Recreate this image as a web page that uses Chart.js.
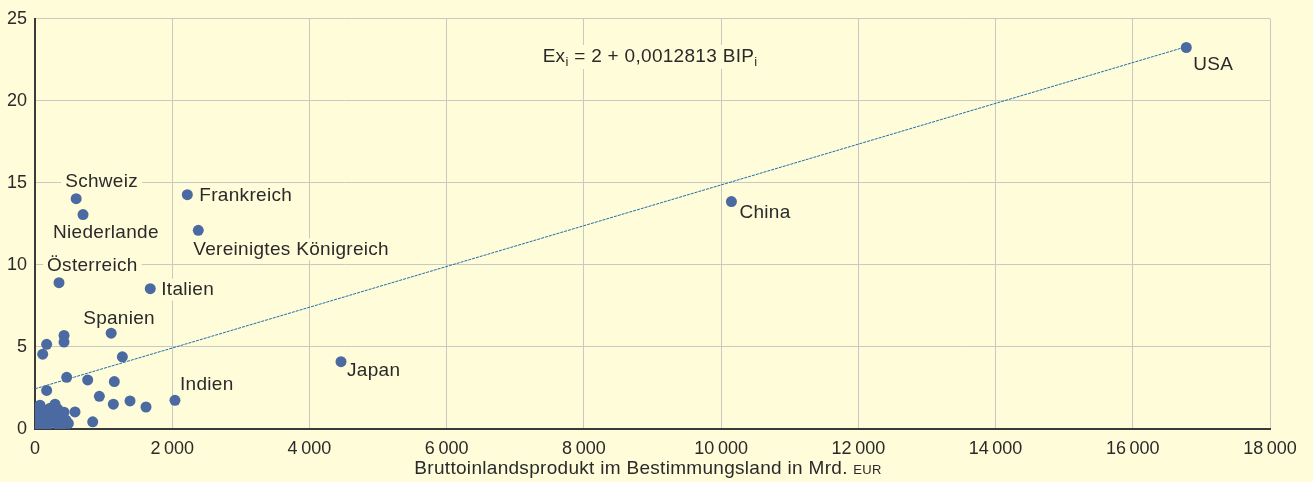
<!DOCTYPE html>
<html>
<head>
<meta charset="utf-8">
<script src="https://cdn.jsdelivr.net/npm/chart.js@4.4.0/dist/chart.umd.min.js"></script>
<style>
    html, body { margin: 0; padding: 0; background: #fffcda; }
    #wrap { width: 1313px; height: 482px; }
</style>
</head>
<body>
<div id="wrap"><canvas id="exportChart" width="1313" height="482"></canvas></div>
<script>
// Daten: BIP (Mrd. EUR) und Exporte je Bestimmungsland
var countryNames = ['USA', 'China', 'Japan', 'Frankreich', 'Vereinigtes Königreich', 'Italien', 'Indien',
    'Spanien', 'Schweiz', 'Niederlande', 'Österreich'];
var countryBip = [16780, 10150, 4460, 2220, 2380, 1680, 2040, 1110, 600, 700, 350];
var countryExports = [23.25, 13.86, 4.10, 14.28, 12.11, 8.55, 1.75, 5.84, 14.04, 13.07, 8.92];

var otherBip = [112, 170, 423, 423, 462, 768, 1156, 1273, 170, 938, 1142, 1385, 1618, 583, 486, 841,
    73, 146, 219, 292, 335, 102, 190, 277, 364, 44, 131, 248, 364, 423, 29, 175, 321, 394, 452, 15];
var otherExports = [4.56, 5.16, 5.70, 5.30, 3.15, 2.99, 2.89, 4.40, 2.35, 1.99, 1.51, 1.71, 1.34, 1.04, 0.34, 0.44,
    1.45, 1.14, 1.27, 1.51, 1.20, 0.84, 0.66, 0.84, 0.90, 0.54, 0.30, 0.42, 0.54, 1.02, 0.24, 0.18, 0.30, 0.24, 0.54, 0.96];

var trendBip = [0, 16780];
var trendExports = [2.45, 23.3];

var xTicks = [0, 2000, 4000, 6000, 8000, 10000, 12000, 14000, 16000, 18000];
var yTicks = [0, 5, 10, 15, 20, 25];

var bgColor = '#fffcda';
var textColor = '#2a2a2a';
var fontFamily = '"Liberation Sans", Arial, sans-serif';
var labelFont = '19px ' + fontFamily;
var subFont = '13px ' + fontFamily;
var spacing = '0.3px';

// Position der Beschriftung relativ zum Punkt (links, Mitte)
var labelOffsets = {
    'USA': [7, 17], 'China': [8, 11], 'Japan': [6, 9], 'Frankreich': [12, 1],
    'Vereinigtes Königreich': [-5, 19], 'Italien': [11, 1], 'Indien': [5, -16],
    'Spanien': [-28, -14], 'Schweiz': [-11, -17], 'Niederlande': [-30, 18], 'Österreich': [-12, -17]
};

var points = [];
for (var i = 0; i < countryNames.length; i++) {
    points.push({ x: countryBip[i], y: countryExports[i], name: countryNames[i] });
}
for (var j = 0; j < otherBip.length; j++) {
    points.push({ x: otherBip[j], y: otherExports[j], name: '' });
}
var trend = [];
for (var k = 0; k < trendBip.length; k++) {
    trend.push({ x: trendBip[k], y: trendExports[k] });
}

function formatThousands(v) {
    return v.toString().replace(/\B(?=(\d{3})+(?!\d))/g, '\u2009');
}

function textWithBg(ctx, text, x, y) {
    var w = ctx.measureText(text).width;
    ctx.fillStyle = bgColor;
    ctx.fillRect(x - 4, y - 11, w + 8, 22);
    ctx.fillStyle = textColor;
    ctx.fillText(text, x, y);
}

var labelPlugin = {
    id: 'labelPlugin',
    beforeDraw: function (chart) {
        var ctx = chart.ctx;
        ctx.save();
        ctx.fillStyle = bgColor;
        ctx.fillRect(0, 0, chart.width, chart.height);
        ctx.restore();
    },
    beforeDatasetsDraw: function (chart) {
        var ctx = chart.ctx;
        var xs = chart.scales.x, ys = chart.scales.y;
        ctx.save();
        ctx.letterSpacing = spacing;
        ctx.font = labelFont;
        ctx.textBaseline = 'middle';
        ctx.textAlign = 'left';
        points.forEach(function (p) {
            if (!p.name) return;
            var off = labelOffsets[p.name];
            textWithBg(ctx, p.name, xs.getPixelForValue(p.x) + off[0], ys.getPixelForValue(p.y) + off[1]);
        });

        // Regressionsgleichung
        var parts = [['Ex', 0], ['i', 1], [' = 2 + 0,0012813 BIP', 0], ['i', 1]];
        var total = 0;
        parts.forEach(function (pt) {
            ctx.font = pt[1] ? subFont : labelFont;
            total += ctx.measureText(pt[0]).width;
        });
        var ex = 650 - total / 2, ey = 57;
        ctx.fillStyle = bgColor;
        ctx.fillRect(ex - 6, ey - 12, total + 12, 24);
        ctx.fillStyle = textColor;
        var cx = ex;
        parts.forEach(function (pt) {
            ctx.font = pt[1] ? subFont : labelFont;
            ctx.fillText(pt[0], cx, pt[1] ? ey + 5 : ey);
            cx += ctx.measureText(pt[0]).width;
        });

        // Achsentitel mit EUR in Kapitälchen
        var t1 = 'Bruttoinlandsprodukt im Bestimmungsland in Mrd. ';
        var t2 = 'EUR';
        ctx.font = labelFont;
        var w1 = ctx.measureText(t1).width;
        ctx.font = subFont;
        var w2 = ctx.measureText(t2).width;
        var tx = 648 - (w1 + w2) / 2;
        ctx.textBaseline = 'alphabetic';
        ctx.font = labelFont;
        ctx.fillText(t1, tx, 474);
        ctx.font = subFont;
        ctx.fillText(t2, tx + w1, 474);
        ctx.restore();
    }
};

new Chart(document.getElementById('exportChart').getContext('2d'), {
    type: 'scatter',
    data: {
        datasets: [{
            label: 'Länder',
            data: points,
            backgroundColor: '#4b6aa1',
            borderColor: '#4b6aa1',
            pointRadius: 5.5,
            pointBorderWidth: 0,
            order: 1
        },
        {
            label: 'Trend',
            type: 'line',
            data: trend,
            borderColor: '#1f6fa8',
            borderWidth: 1,
            borderDash: [3, 1],
            pointRadius: 0,
            fill: false,
            order: 2
        }]
    },
    options: {
        responsive: false,
        animation: false,
        layout: { padding: { top: 14, right: 43, left: 0, bottom: 0 } },
        plugins: {
            legend: { display: false },
            tooltip: { enabled: false }
        },
        scales: {
            x: {
                type: 'linear',
                min: 0,
                max: 18000,
                afterBuildTicks: function (scale) {
                    scale.ticks = xTicks.map(function (v) { return { value: v }; });
                },
                afterFit: function (scale) { scale.height = 53; },
                ticks: {
                    color: textColor,
                    padding: 9,
                    maxRotation: 0,
                    font: { family: fontFamily, size: 18 },
                    callback: function (value) { return formatThousands(value); }
                },
                grid: { color: '#c9c9c3', lineWidth: 1, drawTicks: false },
                border: { color: '#3a3a3a', width: 2 }
            },
            y: {
                type: 'linear',
                min: 0,
                max: 25,
                afterBuildTicks: function (scale) {
                    scale.ticks = yTicks.map(function (v) { return { value: v }; });
                },
                afterFit: function (scale) { scale.width = 35; },
                ticks: {
                    color: textColor,
                    padding: 8,
                    font: { family: fontFamily, size: 18 }
                },
                grid: { color: '#c9c9c3', lineWidth: 1, drawTicks: false },
                border: { color: '#3a3a3a', width: 2 }
            }
        }
    },
    plugins: [labelPlugin]
});
</script>
</body>
</html>
